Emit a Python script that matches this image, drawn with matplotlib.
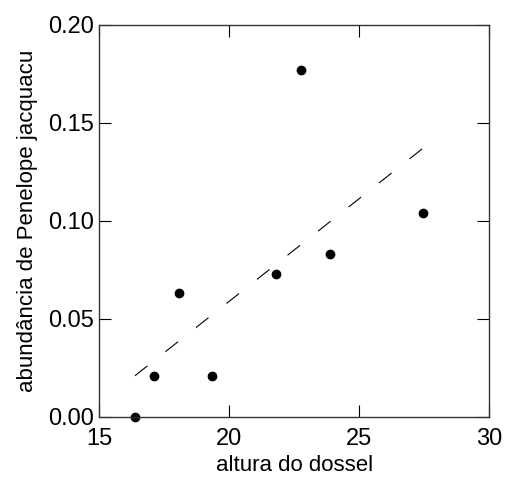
import numpy as np
import matplotlib
matplotlib.use("Agg")
import matplotlib.pyplot as plt
from matplotlib.ticker import FormatStrFormatter

plt.rcParams['font.family'] = ['Liberation Sans', 'DejaVu Sans']
plt.rcParams['lines.scale_dashes'] = False

altura = [16.37, 17.11, 18.05, 19.35, 21.78, 22.77, 23.88, 27.44]
abundancia = [0.000, 0.021, 0.063, 0.021, 0.073, 0.177, 0.083, 0.104]

x = np.array(altura)
y = np.array(abundancia)
b, a = np.polyfit(x, y, 1)
xs = np.array([x.min(), x.max()])

fig = plt.figure(figsize=(5.07, 4.8), dpi=100)
ax = fig.add_axes([99.3/507, 1 - 416.7/480, 390/507, 392/480])

ax.plot(xs, a + b*xs, color='k', lw=0.8, dashes=(11.5, 16.5))
ax.plot(x, y, 'o', color='k', ms=6, clip_on=False)

ax.set_xlim(15, 30)
ax.set_ylim(0, 0.2)
ax.set_xticks([15, 20, 25, 30])
ax.set_yticks([0, 0.05, 0.10, 0.15, 0.20])
ax.yaxis.set_major_formatter(FormatStrFormatter('%.2f'))
ax.tick_params(direction='in', length=8.5, width=0.8, labelsize=17,
               top=True, right=True, pad=4)
ax.tick_params(axis='x', pad=8)
for s in ax.spines.values():
    s.set_linewidth(1.0)
    s.set_color('#333333')

ax.set_xlabel('altura do dossel', fontsize=16, labelpad=4)
ax.set_ylabel('abundância de Penelope jacquacu', fontsize=16, labelpad=7)

fig.savefig('out.png', dpi=100)
